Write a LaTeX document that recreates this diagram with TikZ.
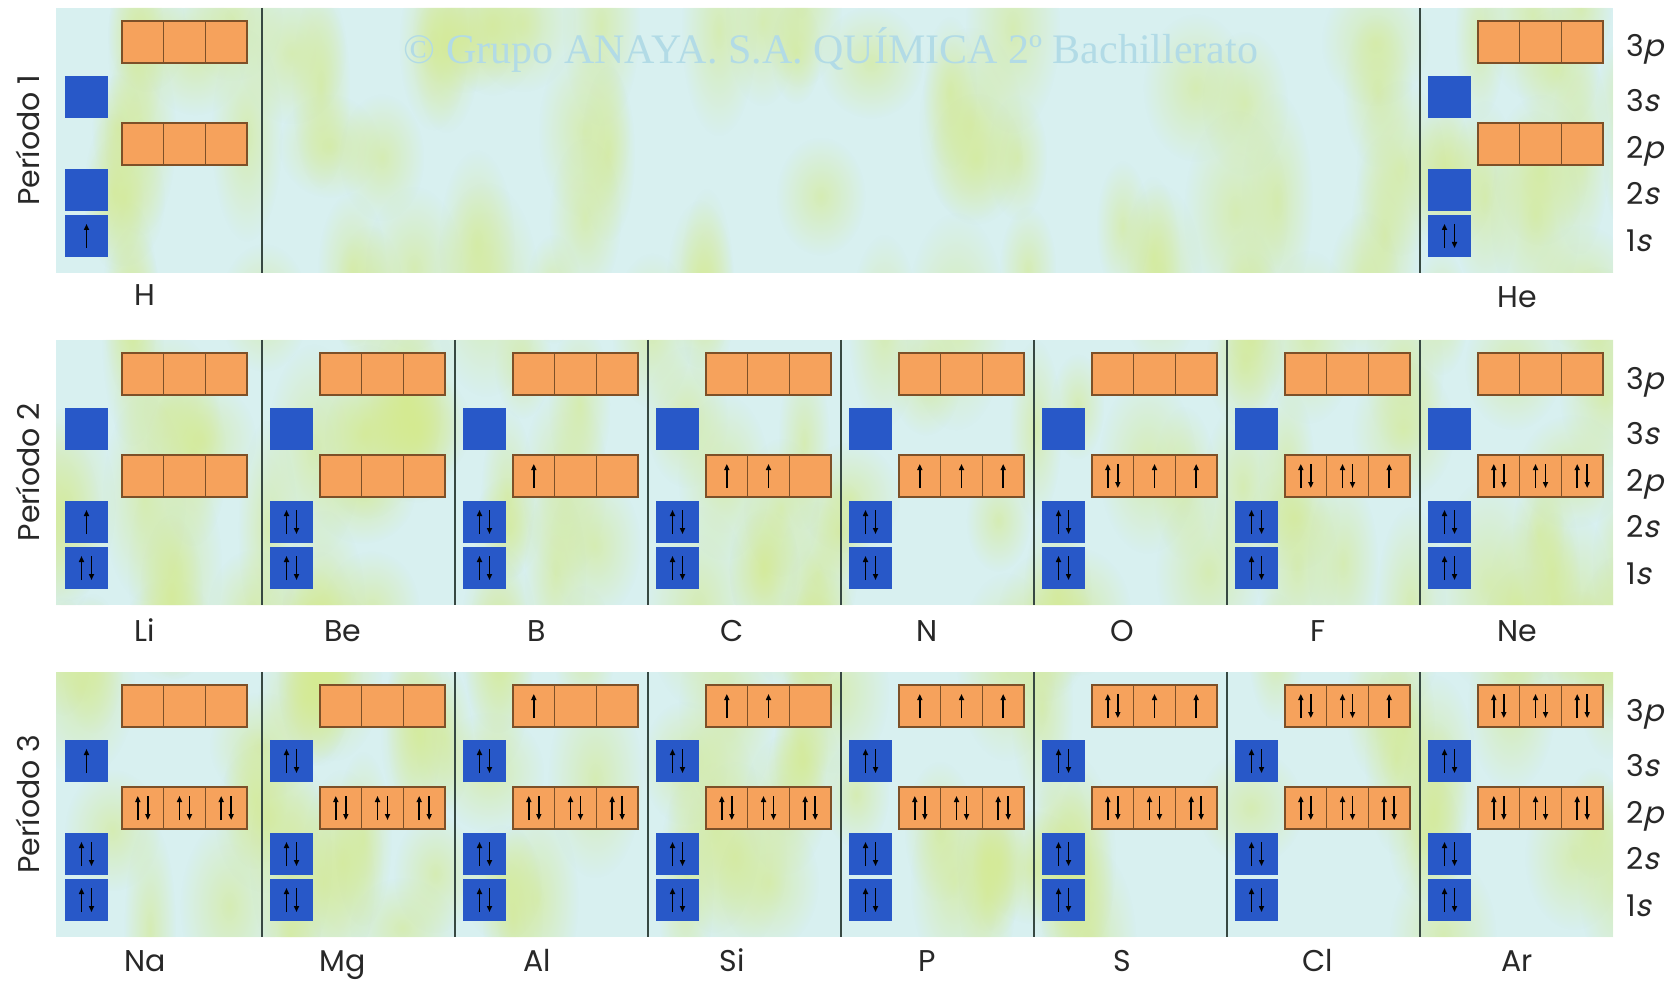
\documentclass[tikz,border=0pt]{standalone}
\usepackage{fontspec}
\setmainfont{Poppins}
\newfontfamily\labit[FakeSlant=0.22]{Poppins}
\newfontfamily\wmfont{Liberation Serif}
\usetikzlibrary{arrows.meta,fadings}
\tikzfading[name=softblob, inner color=transparent!0, outer color=transparent!100]
\definecolor{bgc}{RGB}{216,240,240}
\definecolor{blob}{RGB}{212,234,140}
\definecolor{sqblue}{RGB}{40,88,200}
\definecolor{boxor}{RGB}{246,162,92}
\definecolor{boxline}{RGB}{125,80,40}
\definecolor{divc}{RGB}{55,72,66}
\definecolor{wmc}{RGB}{178,219,230}
\definecolor{txt}{RGB}{40,40,40}
\tikzset{
  panel/.style={fill=bgc},
  bsq/.style={fill=sqblue},
  obox/.style={fill=boxor, draw=boxline, line width=1.4pt},
  ocell/.style={draw=boxline, line width=1.2pt},
  divline/.style={draw=divc, line width=2pt},
  el/.style={line width=1.6pt, -{Triangle[length=6pt,width=5pt]}},
  elname/.style={anchor=base, font=\fontsize{30}{30}\selectfont, text=txt, inner sep=0pt},
  shell/.style={anchor=base west, font=\fontsize{30}{30}\selectfont, text=txt, inner sep=0pt},
  period/.style={rotate=90, font=\fontsize{30}{30}\selectfont, text=txt, inner sep=0pt},
  wm/.style={font=\wmfont\fontsize{42}{42}\selectfont, text=wmc, inner sep=0pt}
}
% orange 3-cell box
\newcommand\pbox[2]{%
  \draw[obox] (#1,#2) rectangle ++(125,42);
  \draw[ocell] (#1+41.67,#2) -- ++(0,42) (#1+83.33,#2) -- ++(0,42);}
% one column of empty orbitals: blue left, orange left, panel top
\newcommand\orbcol[3]{%
  \fill[bsq] (#1,#3+68) rectangle ++(43,42);
  \fill[bsq] (#1,#3+161) rectangle ++(43,42);
  \fill[bsq] (#1,#3+207) rectangle ++(43,42);
  \pbox{#2}{#3+13}
  \pbox{#2}{#3+115}}
% electrons in a cell
\newcommand\spin[3]{%
  \ifcase#3\or
    \draw[el] (#1,#2+12) -- (#1,#2-12);
  \or
    \draw[el] (#1-5,#2+12) -- (#1-5,#2-12);
    \draw[el] (#1+5,#2-12) -- (#1+5,#2+12);
  \fi}
% configuration: blue left, orange left, panel top, 9 codes (1s,2s,2p x3,3s,3p x3)
\newcommand\cfg[4]{%
  \foreach \c [count=\i] in {#4}{%
    \ifcase\i\or
      \def\cx{#1+21.5}\def\cy{#3+228}%
    \or \def\cx{#1+21.5}\def\cy{#3+182}%
    \or \def\cx{#2+20.8}\def\cy{#3+136}%
    \or \def\cx{#2+62.5}\def\cy{#3+136}%
    \or \def\cx{#2+104.2}\def\cy{#3+136}%
    \or \def\cx{#1+21.5}\def\cy{#3+89}%
    \or \def\cx{#2+20.8}\def\cy{#3+34}%
    \or \def\cx{#2+62.5}\def\cy{#3+34}%
    \or \def\cx{#2+104.2}\def\cy{#3+34}%
    \fi
    \spin{\cx}{\cy}{\c}
  }}
\begin{document}
\begin{tikzpicture}[x=1pt,y=-1pt]
\useasboundingbox (0,0) rectangle (1675,981);
\fill[white] (0,0) rectangle (1675,981);
% panels
\foreach \T in {8,340,672}{\fill[panel] (56,\T) rectangle (1613,\T+265);}
% soft yellow-green texture
\begin{scope}
  \clip (56,8) rectangle (1613,273) (56,340) rectangle (1613,605) (56,672) rectangle (1613,937);
  \pgfmathsetseed{4242}
  \foreach \k in {1,...,220}{%
    \pgfmathsetmacro\bx{40+1590*rnd}
    \pgfmathsetmacro\by{0+950*rnd}
    \pgfmathsetmacro\rx{25+30*rnd}
    \pgfmathsetmacro\ry{50+60*rnd}
    \fill[blob, fill opacity=0.6, path fading=softblob]
      (\bx,\by) ellipse [x radius=\rx, y radius=\ry];
  }
\end{scope}
% watermark
\node[wm] (wm) at (831,50) {© Grupo ANAYA. S.A. QUÍMICA 2º Bachillerato};
% dividers
\foreach \T in {340,672}{\foreach \d in {262,455,648,841,1034,1227,1420}{\draw[divline] (\d,\T) -- (\d,\T+265);}}
\foreach \d in {262,1420}{\draw[divline] (\d,8) -- (\d,273);}
% orbital boxes
\orbcol{65}{122}{8}
\orbcol{1428}{1478}{8}
\foreach \T in {340,672}{%
  \foreach \bl/\ol in {65/122,270/320,463/513,656/706,849/899,1042/1092,1235/1285,1428/1478}{%
    \orbcol{\bl}{\ol}{\T}}}
% electrons: period 1
\cfg{65}{122}{8}{1,0,0,0,0,0,0,0,0}
\cfg{1428}{1478}{8}{2,0,0,0,0,0,0,0,0}
% period 2
\cfg{65}{122}{340}{2,1,0,0,0,0,0,0,0}
\cfg{270}{320}{340}{2,2,0,0,0,0,0,0,0}
\cfg{463}{513}{340}{2,2,1,0,0,0,0,0,0}
\cfg{656}{706}{340}{2,2,1,1,0,0,0,0,0}
\cfg{849}{899}{340}{2,2,1,1,1,0,0,0,0}
\cfg{1042}{1092}{340}{2,2,2,1,1,0,0,0,0}
\cfg{1235}{1285}{340}{2,2,2,2,1,0,0,0,0}
\cfg{1428}{1478}{340}{2,2,2,2,2,0,0,0,0}
% period 3
\cfg{65}{122}{672}{2,2,2,2,2,1,0,0,0}
\cfg{270}{320}{672}{2,2,2,2,2,2,0,0,0}
\cfg{463}{513}{672}{2,2,2,2,2,2,1,0,0}
\cfg{656}{706}{672}{2,2,2,2,2,2,1,1,0}
\cfg{849}{899}{672}{2,2,2,2,2,2,1,1,1}
\cfg{1042}{1092}{672}{2,2,2,2,2,2,2,1,1}
\cfg{1235}{1285}{672}{2,2,2,2,2,2,2,2,1}
\cfg{1428}{1478}{672}{2,2,2,2,2,2,2,2,2}
% element names
\node[elname] (e-H) at (145,306) {H};
\node[elname] (e-He) at (1517,308) {He};
\foreach \x/\n in {145/Li,343/Be,537/B,732/C,927/N,1122/O,1318/F,1517/Ne}{\node[elname] (e-\n) at (\x,641) {\n};}
\foreach \x/\n in {145/Na,343/Mg,537/Al,732/Si,927/P,1122/S,1318/Cl,1517/Ar}{\node[elname] (e-\n) at (\x,971) {\n};}
% shell labels
\foreach \T [count=\p] in {8,340,672}{%
  \node[shell] (s3p-\p) at (1626,\T+49) {3{\labit p}};
  \node[shell] (s3s-\p) at (1626,\T+104) {3{\labit s}};
  \node[shell] (s2p-\p) at (1626,\T+151) {2{\labit p}};
  \node[shell] (s2s-\p) at (1626,\T+197) {2{\labit s}};
  \node[shell] (s1s-\p) at (1626,\T+244) {1{\labit s}};
  \node[period] (per-\p) at (28,\T+132) {Período \p};
}
\end{tikzpicture}
\end{document}
